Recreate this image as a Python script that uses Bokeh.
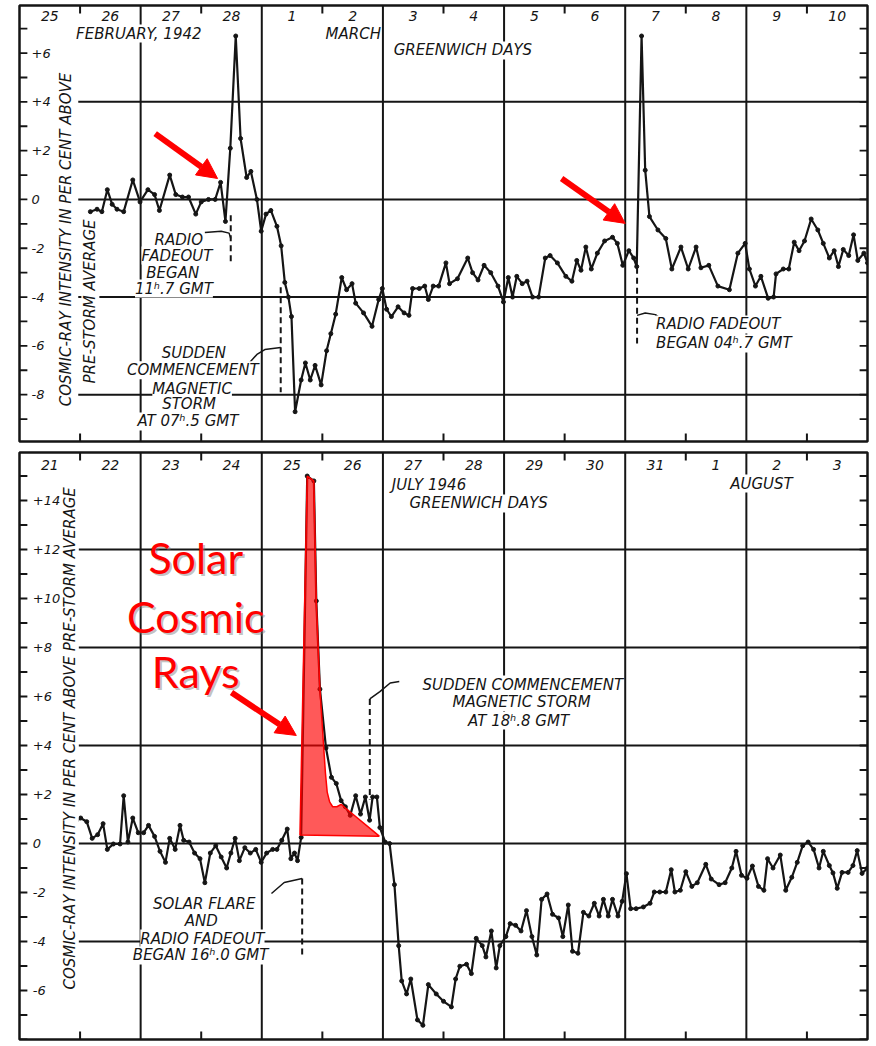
import math
from bokeh.plotting import figure
from bokeh.layouts import column
from bokeh.models import Label, Arrow, NormalHead
from bokeh.core.properties import value
from bokeh.embed import file_html
from bokeh.resources import INLINE

# ---------------- February / March 1942 ----------------
# time in days after 25 February 1942, 00h GMT; intensity in per cent
feb_day = [1.17, 1.28, 1.36, 1.45, 1.53, 1.61, 1.72, 1.87, 1.99, 2.12,
           2.23, 2.31, 2.48, 2.58, 2.69, 2.79, 2.91, 3.00, 3.12, 3.23,
           3.32, 3.40, 3.48, 3.57, 3.65, 3.75, 3.82, 3.92, 3.99, 4.07,
           4.15, 4.25, 4.32, 4.38, 4.44, 4.49, 4.55, 4.65, 4.72, 4.80,
           4.88, 4.98, 5.07, 5.14, 5.22, 5.32, 5.40, 5.49, 5.55, 5.68,
           5.82, 5.93, 5.99, 6.06, 6.14, 6.25, 6.35, 6.43, 6.49, 6.60,
           6.69, 6.75, 6.83, 6.92, 7.04, 7.10, 7.23, 7.40, 7.48, 7.57,
           7.67, 7.78, 7.90, 7.99, 8.07, 8.14, 8.21, 8.30, 8.38, 8.47,
           8.57, 8.68, 8.76, 8.88, 9.02, 9.12, 9.20, 9.27, 9.35, 9.44,
           9.54, 9.66, 9.79, 9.87, 9.96, 10.06, 10.14, 10.19, 10.27, 10.33,
           10.40, 10.54, 10.67, 10.77, 10.92, 11.04, 11.17, 11.25, 11.38, 11.53,
           11.72, 11.86, 11.98, 12.05, 12.15, 12.24, 12.36, 12.45, 12.49, 12.61,
           12.70, 12.79, 12.87, 12.96, 13.07, 13.18, 13.27, 13.37, 13.45, 13.52,
           13.60, 13.69, 13.77, 13.84, 13.94, 14.00]
feb_pct = [-0.5, -0.4, -0.5, 0.4, -0.2, -0.4, -0.5, 0.8, -0.1, 0.4,
           0.2, -0.45, 1.0, 0.2, 0.1, 0.1, -0.6, -0.1, 0.0, 0.0,
           0.7, -0.9, 2.1, 6.7, 2.5, 0.9, 1.15, 0.0, -1.3, -0.6,
           -0.45, -1.1, -1.9, -3.4, -4.0, -4.8, -8.7, -7.4, -6.7, -7.4,
           -6.8, -7.6, -6.2, -5.5, -4.7, -3.2, -3.7, -3.45, -4.25, -4.65,
           -5.2, -4.1, -3.65, -4.5, -4.8, -4.4, -4.65, -4.75, -3.65, -3.65,
           -3.55, -4.1, -3.55, -3.55, -2.6, -3.45, -3.25, -2.4, -3.0, -3.3,
           -2.7, -3.0, -3.55, -4.2, -3.2, -4.0, -3.15, -3.45, -3.35, -4.0,
           -4.0, -2.4, -2.3, -2.6, -3.15, -3.35, -2.5, -2.9, -1.95, -2.85,
           -2.2, -1.7, -1.55, -1.8, -2.7, -2.1, -2.4, -2.75, 6.7, 1.2,
           -0.7, -1.25, -1.6, -2.85, -1.95, -2.85, -1.95, -2.8, -2.7, -3.55,
           -3.7, -2.2, -1.8, -2.85, -3.55, -3.15, -4.05, -4.0, -3.05, -2.85,
           -2.85, -1.75, -2.1, -1.7, -0.8, -1.25, -1.8, -2.4, -2.1, -2.75,
           -2.05, -2.3, -1.45, -2.5, -2.2, -2.6]
feb_day_labels = ["25", "26", "27", "28", "1", "2", "3", "4", "5", "6",
                  "7", "8", "9", "10"]
feb_yticks = [6, 4, 2, 0, -2, -4, -6, -8]
feb_grid_y = [4, 0, -4, -8]
feb_fadeout_1 = 3 + 11.7 / 24   # 28 Feb, 11h.7 GMT
feb_storm = 4 + 7.5 / 24        # 1 Mar, 07h.5 GMT
feb_fadeout_2 = 10 + 4.7 / 24   # 7 Mar, 04h.7 GMT

# ---------------- July / August 1946 ----------------
# time in days after 21 July 1946, 00h GMT; intensity in per cent
jul_day = [0.95, 1.01, 1.11, 1.20, 1.29, 1.38, 1.45, 1.55, 1.66, 1.72,
           1.79, 1.87, 1.96, 2.05, 2.13, 2.23, 2.32, 2.41, 2.48, 2.57,
           2.65, 2.71, 2.80, 2.89, 2.98, 3.06, 3.15, 3.24, 3.33, 3.42,
           3.49, 3.56, 3.63, 3.72, 3.81, 3.90, 3.99, 4.08, 4.18, 4.25,
           4.33, 4.42, 4.48, 4.54, 4.59, 4.65, 4.75, 4.86, 4.90, 4.96,
           5.06, 5.15, 5.23, 5.31, 5.38, 5.46, 5.55, 5.63, 5.71, 5.78,
           5.83, 5.90, 5.95, 6.04, 6.11, 6.19, 6.26, 6.31, 6.39, 6.46,
           6.57, 6.66, 6.75, 6.88, 7.00, 7.13, 7.20, 7.27, 7.38, 7.46,
           7.54, 7.64, 7.70, 7.79, 7.87, 7.93, 8.03, 8.10, 8.19, 8.28,
           8.37, 8.46, 8.54, 8.62, 8.71, 8.80, 8.90, 8.97, 9.06, 9.13,
           9.22, 9.31, 9.40, 9.49, 9.57, 9.64, 9.72, 9.79, 9.88, 9.95,
           10.02, 10.09, 10.18, 10.30, 10.41, 10.48, 10.57, 10.67, 10.76, 10.82,
           10.91, 11.00, 11.10, 11.19, 11.33, 11.42, 11.55, 11.65, 11.76, 11.83,
           11.92, 12.01, 12.10, 12.20, 12.29, 12.35, 12.44, 12.56, 12.65, 12.75,
           12.84, 12.93, 13.02, 13.11, 13.20, 13.27, 13.37, 13.43, 13.50, 13.58,
           13.68, 13.76, 13.83, 13.91, 14.00]
jul_pct = [0.97, 1.04, 0.89, 0.21, 0.36, 0.81, -0.24, -0.02, -0.02, 1.95,
           0.06, 1.04, 0.44, 0.44, 0.74, 0.29, -0.32, -0.77, 0.21, -0.24,
           0.74, 0.13, 0.06, -0.39, -0.62, -1.6, -0.39, -0.09, -0.55, -1.0,
           -0.39, 0.21, -0.7, -0.17, -0.39, -0.24, -0.77, -0.39, -0.24, -0.24,
           0.13, 0.59, -0.62, -0.39, -0.7, 0.25, 15.0, 14.8, 9.9, 6.3,
           3.9, 2.7, 2.45, 1.75, 1.5, 1.15, 1.95, 1.2, 1.9, 0.95,
           1.9, 1.9, 0.65, 0.05, 0.0, -1.68, -4.17, -5.61, -6.14, -5.53,
           -7.2, -7.42, -5.76, -6.14, -6.44, -6.67, -5.53, -5.01, -4.93, -5.31,
           -3.87, -4.17, -4.63, -3.57, -5.08, -4.17, -3.8, -3.27, -3.34, -3.57,
           -2.74, -3.8, -4.55, -2.28, -2.06, -2.89, -3.04, -3.8, -2.51, -4.4,
           -4.48, -2.81, -2.96, -2.44, -2.96, -2.28, -2.96, -2.28, -2.96, -2.36,
           -1.23, -2.66, -2.66, -2.59, -2.44, -1.98, -1.98, -1.98, -1.07, -1.98,
           -1.91, -1.15, -1.75, -1.6, -0.85, -1.45, -1.68, -1.6, -1.0, -0.32,
           -1.3, -1.42, -0.92, -1.75, -1.91, -0.62, -1.0, -0.47, -1.91, -1.38,
           -0.77, -0.09, 0.06, -0.24, -1.0, -0.32, -0.9, -1.2, -1.83, -1.18,
           -1.18, -0.9, -0.29, -1.22, -1.0]
jul_day_labels = ["21", "22", "23", "24", "25", "26", "27", "28", "29", "30",
                  "31", "1", "2", "3"]
jul_yticks = [14, 12, 10, 8, 6, 4, 2, 0, -2, -4, -6]
jul_grid_y = [12, 8, 4, 0, -4]
jul_flare = 4 + 16.0 / 24       # 25 Jul, 16h.0 GMT
jul_storm = 5 + 18.8 / 24       # 26 Jul, 18h.8 GMT

# outline of the shaded solar cosmic-ray excess
sol_day = [4.63, 4.75, 4.86, 4.90, 4.96, 5.02, 5.05, 5.08, 5.12, 5.17,
           5.24, 5.31, 5.38, 5.94, 4.63]
sol_pct = [0.35, 15.0, 14.8, 9.9, 6.3, 4.0, 2.9, 2.1, 1.7, 1.5,
           1.5, 1.6, 1.45, 0.3, 0.35]

INK = "#151515"
FONT = "DejaVu Sans"
RED = "#ff0000"
N_DAYS = 14


def make_panel(height, ylo, yhi, left, right, top, bottom):
    return figure(width=876, height=height, x_range=(0, N_DAYS),
                  y_range=(ylo, yhi), output_backend="svg",
                  toolbar_location=None, x_axis_type=None, y_axis_type=None,
                  title=None, min_border_left=left, min_border_right=right,
                  min_border_top=top, min_border_bottom=bottom,
                  outline_line_color=INK, outline_line_width=2.5,
                  background_fill_color="white", border_fill_color="white")


def draw_frame(p, ylo, yhi, grid_y, tick_w, tick_h):
    major = list(range(2, N_DAYS, 2))
    p.segment(x0=major, y0=[ylo] * len(major), x1=major, y1=[yhi] * len(major),
              line_color=INK, line_width=2)
    p.segment(x0=[0.97] * len(grid_y), y0=grid_y, x1=[N_DAYS] * len(grid_y),
              y1=grid_y, line_color=INK, line_width=2)
    odd = list(range(1, N_DAYS, 2))
    p.segment(x0=odd, y0=[yhi] * len(odd), x1=odd, y1=[yhi - tick_h] * len(odd),
              line_color=INK, line_width=2)
    p.segment(x0=odd, y0=[ylo] * len(odd), x1=odd, y1=[ylo + tick_h] * len(odd),
              line_color=INK, line_width=2)
    vals = list(range(math.ceil(ylo), math.floor(yhi) + 1))
    p.segment(x0=[0] * len(vals), y0=vals, x1=[tick_w] * len(vals), y1=vals,
              line_color=INK, line_width=1.8)
    p.segment(x0=[N_DAYS] * len(vals), y0=vals, x1=[N_DAYS - tick_w] * len(vals),
              y1=vals, line_color=INK, line_width=1.8)


def day_and_tick_labels(p, labels, label_y, yticks, tick_x):
    p.text(x=[i + 0.5 for i in range(len(labels))], y=[label_y] * len(labels),
           text=labels, text_font=value(FONT), text_font_style="italic",
           text_font_size="14px", text_color=INK, text_align="center",
           text_baseline="middle")
    tick_text = [("+%d" % v) if v > 0 else ("%d" % v) for v in yticks]
    p.text(x=[tick_x] * len(yticks), y=yticks, text=tick_text,
           text_font=value(FONT), text_font_style="italic",
           text_font_size="13px", text_color=INK, text_align="left",
           text_baseline="middle")


def note(p, x, y, text, size=15, align="center", angle=0.0):
    p.add_layout(Label(x=x, y=y, text=text, text_font=FONT,
                       text_font_style="italic", text_font_size="%dpx" % size,
                       text_color=INK, text_align=align, text_baseline="middle",
                       angle=angle, background_fill_color="white",
                       background_fill_alpha=1.0))


def series(p, days, pct):
    p.line(days, pct, line_color=INK, line_width=2.2)
    p.scatter(days, pct, size=4, color=INK)


def marker(p, t, y0, y1):
    p.line([t, t], [y0, y1], line_color=INK, line_width=2, line_dash="6 4")


def leader(p, xs, ys):
    p.line(xs, ys, line_color=INK, line_width=1.5)


def red_arrow(p, x0, y0, x1, y1):
    p.add_layout(Arrow(end=NormalHead(size=20, fill_color=RED, line_color=RED),
                       x_start=x0, y_start=y0, x_end=x1, y_end=y1,
                       line_color=RED, line_width=6))


# ---------------- upper panel: 1942 ----------------
F_LO, F_HI = -9.92, 7.95
p1 = make_panel(444, F_LO, F_HI, left=19, right=5, top=5, bottom=3)
draw_frame(p1, F_LO, F_HI, feb_grid_y, tick_w=0.13, tick_h=0.33)
series(p1, feb_day, feb_pct)
day_and_tick_labels(p1, feb_day_labels, 7.5, feb_yticks, 0.2)

marker(p1, feb_fadeout_1, -0.65, -2.6)
leader(p1, [3.06, 3.33, 3.46, feb_fadeout_1], [-1.35, -1.3, -1.38, -1.6])
marker(p1, feb_storm, -3.6, -7.9)
leader(p1, [3.80, 3.92, 4.05, feb_storm], [-6.68, -6.35, -6.15, -6.07])
marker(p1, feb_fadeout_2, -2.8, -5.9)
leader(p1, [feb_fadeout_2, 10.33, 10.50, 10.60], [-4.75, -4.65, -4.72, -4.9])

note(p1, 1.97, 6.80, "FEBRUARY, 1942")
note(p1, 5.51, 6.80, "MARCH")
note(p1, 7.32, 6.11, "GREENWICH DAYS")
note(p1, 0.76, -1.64, "COSMIC-RAY INTENSITY IN PER CENT ABOVE",
     angle=math.pi / 2)
note(p1, 1.17, -4.18, "PRE-STORM AVERAGE", angle=math.pi / 2)
note(p1, 2.63, -1.68, "RADIO")
note(p1, 2.60, -2.30, "FADEOUT")
note(p1, 2.53, -3.03, "BEGAN")
note(p1, 2.55, -3.65, "11ʰ.7 GMT")
note(p1, 2.88, -6.31, "SUDDEN")
note(p1, 2.86, -7.00, "COMMENCEMENT")
note(p1, 2.85, -7.75, "MAGNETIC")
note(p1, 2.80, -8.40, "STORM")
note(p1, 2.78, -9.10, "AT 07ʰ.5 GMT")
note(p1, 10.51, -5.12, "RADIO FADEOUT", align="left")
note(p1, 10.51, -5.90, "BEGAN 04ʰ.7 GMT", align="left")

red_arrow(p1, 2.24, 2.70, 3.27, 0.86)
red_arrow(p1, 8.95, 0.86, 10.0, -0.98)

# ---------------- lower panel: 1946 ----------------
J_LO, J_HI = -8.0, 15.96
p2 = make_panel(602, J_LO, J_HI, left=18, right=9, top=8, bottom=7)
draw_frame(p2, J_LO, J_HI, jul_grid_y, tick_w=0.13, tick_h=0.33)
series(p2, jul_day, jul_pct)
day_and_tick_labels(p2, jul_day_labels, 15.43, jul_yticks, 0.22)

p2.patch(sol_day, sol_pct, fill_color=RED, fill_alpha=0.65,
         line_color=RED, line_width=1.5)

marker(p2, jul_flare, -1.43, -4.65)
leader(p2, [4.16, 4.37, jul_flare], [-2.04, -1.59, -1.43])
marker(p2, jul_storm, 5.9, 1.8)
leader(p2, [jul_storm, 5.95, 6.12, 6.27], [5.9, 6.2, 6.55, 6.61])

note(p2, 6.76, 14.65, "JULY 1946")
note(p2, 7.58, 13.88, "GREENWICH DAYS")
note(p2, 12.25, 14.69, "AUGUST")
note(p2, 0.83, 4.29, "COSMIC-RAY INTENSITY IN PER CENT ABOVE PRE-STORM AVERAGE",
     angle=math.pi / 2)
note(p2, 8.31, 6.49, "SUDDEN COMMENCEMENT")
note(p2, 8.29, 5.78, "MAGNETIC STORM")
note(p2, 8.24, 5.02, "AT 18ʰ.8 GMT")
note(p2, 3.05, -2.45, "SOLAR FLARE")
note(p2, 3.00, -3.18, "AND")
note(p2, 3.02, -3.88, "RADIO FADEOUT")
note(p2, 2.99, -4.57, "BEGAN 16ʰ.0 GMT")

# highlighted caption with a soft drop shadow
caption = ["Solar", "Cosmic", "Rays"]
caption_y = [11.67, 9.27, 7.02]
for dx, dy, col, alpha in [(2, 2, "#777777", 0.45), (0, 0, RED, 1.0)]:
    p2.text(x=[2.91] * 3, y=caption_y, text=caption, x_offset=dx, y_offset=dy,
            text_font=value("Lato"), text_font_size="43px", text_color=col,
            text_alpha=alpha, text_align="center", text_baseline="alphabetic")

red_arrow(p2, 3.50, 6.16, 4.57, 4.41)

layout = column(p1, p2, spacing=0)
open("out.html", "w").write(file_html(layout, INLINE))
